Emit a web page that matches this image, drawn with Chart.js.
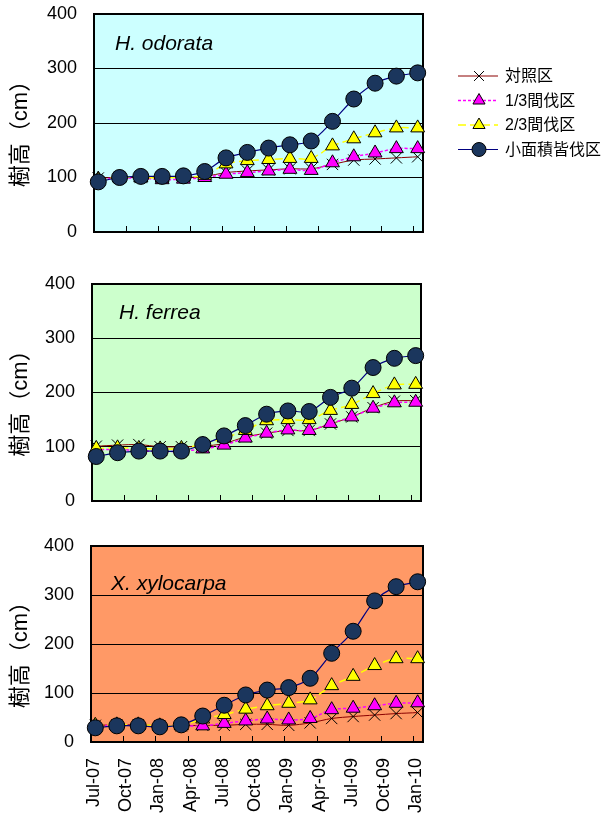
<!DOCTYPE html>
<html>
<head>
<meta charset="utf-8">
<script src="https://cdn.jsdelivr.net/npm/chart.js@4/dist/chart.umd.min.js"></script>
<style>
  body { margin: 0; background: #fff; width: 601px; height: 820px; position: relative; overflow: hidden; }
  .panel { position: absolute; left: 0; width: 601px; }
</style>
</head>
<body>
<div class="panel" style="top:0;height:250px"><canvas id="odorata"></canvas></div>
<div class="panel" style="top:266px;height:250px"><canvas id="ferrea"></canvas></div>
<div class="panel" style="top:530px;height:290px"><canvas id="xylocarpa"></canvas></div>
<script>
// axis labels
const xTickLabels = ['Jul-07', 'Oct-07', 'Jan-08', 'Apr-08', 'Jul-08', 'Oct-08', 'Jan-09', 'Apr-09', 'Jul-09', 'Oct-09', 'Jan-10'];
const xTickMonths = [0, 3, 6, 9, 12, 15, 18, 21, 24, 27, 30];   // months since Jul-07
const yTicks = [0, 100, 200, 300, 400];
const yTitle = '樹高（cm）';
const seriesNames = ['対照区', '1/3間伐区', '2/3間伐区', '小面積皆伐区'];

// survey dates, months since Jul-07 (mid-month, every 2 months)
const surveyMonths = [0.4, 2.4, 4.4, 6.4, 8.4, 10.4, 12.4, 14.4, 16.4, 18.4, 20.4, 22.4, 24.4, 26.4, 28.4, 30.4];

// H. odorata
const odorataControl = [99, 100, 100, 100, 100, 102, 109, 112, 114, 116, 116, 124, 132, 134, 136, 138];
const odorataThin13  = [97, 99, 99, 96, 97, 100, 106, 109, 112, 115, 113, 127, 138, 145, 153, 153];
const odorataThin23  = [96, 100, 100, 99, 101, 104, 125, 131, 133, 135, 135, 158, 171, 182, 191, 191];
const odorataClear   = [92, 100, 102, 102, 103, 111, 136, 146, 154, 160, 167, 203, 244, 273, 286, 292];

// H. ferrea
const ferreaControl = [101, 103, 104, 100, 100, 101, 106, 118, 125, 130, 130, 142, 155, 172, 184, 185];
const ferreaThin13  = [95, 95, 93, 91, 92, 96, 103, 116, 125, 131, 130, 143, 155, 171, 181, 182];
const ferreaThin23  = [97, 98, 97, 96, 97, 105, 116, 130, 148, 150, 150, 167, 178, 198, 214, 215];
const ferreaClear   = [82, 89, 92, 92, 92, 104, 120, 139, 160, 166, 165, 191, 208, 246, 263, 268];

// X. xylocarpa
const xylocarpaControl = [34, 35, 35, 33, 33, 34, 34, 36, 36, 34, 39, 48, 52, 55, 58, 60];
const xylocarpaThin13  = [33, 34, 34, 32, 33, 33, 38, 43, 47, 45, 48, 66, 69, 74, 79, 80];
const xylocarpaThin23  = [34, 35, 35, 33, 34, 47, 56, 67, 74, 79, 86, 115, 134, 156, 170, 170];
const xylocarpaClear   = [29, 33, 33, 31, 35, 53, 75, 96, 106, 111, 130, 181, 226, 288, 317, 327];

const latin = '"Liberation Sans", Arial, "Noto Sans CJK JP", sans-serif';
Chart.defaults.font.family = latin;
Chart.defaults.color = '#000';

const seriesStyles = [
  { borderColor: '#8b0000', borderWidth: 1, pointStyle: 'crossRot', pointRadius: 8,
    pointBackgroundColor: '#000', pointBorderColor: '#000', pointBorderWidth: 1, order: 3 },
  { borderColor: '#ff00ff', borderWidth: 1.5, borderDash: [3, 2], pointStyle: 'triangle', pointRadius: 8,
    pointBackgroundColor: '#ff00ff', pointBorderColor: '#000', pointBorderWidth: 1, order: 2 },
  { borderColor: '#ffff00', borderWidth: 1.5, borderDash: [8, 4], pointStyle: 'triangle', pointRadius: 8,
    pointBackgroundColor: '#ffff00', pointBorderColor: '#000', pointBorderWidth: 1, order: 1 },
  { borderColor: '#000080', borderWidth: 1.2, pointStyle: 'circle', pointRadius: 8,
    pointBackgroundColor: '#1b365d', pointBorderColor: '#000', pointBorderWidth: 1, order: 0 }
];

function makeDatasets(series) {
  return series.map((vals, i) => Object.assign({
    label: seriesNames[i],
    data: vals.map((v, k) => ({ x: surveyMonths[k], y: v })),
    fill: false,
    tension: 0.3,
    clip: false
  }, seriesStyles[i]));
}

function marker(ctx, style, x, y, r) {
  ctx.beginPath();
  if (style === 'circle') {
    ctx.arc(x, y, r, 0, Math.PI * 2);
    ctx.fill(); ctx.stroke();
  } else if (style === 'triangle') {
    ctx.moveTo(x, y - r);
    ctx.lineTo(x + r * 0.866, y + r / 2);
    ctx.lineTo(x - r * 0.866, y + r / 2);
    ctx.closePath();
    ctx.fill(); ctx.stroke();
  } else {
    const d = r * 0.707;
    ctx.moveTo(x - d, y - d); ctx.lineTo(x + d, y + d);
    ctx.moveTo(x + d, y - d); ctx.lineTo(x - d, y + d);
    ctx.stroke();
  }
}

function drawLegend(ctx, datasets) {
  ctx.save();
  datasets.forEach((ds, i) => {
    const y = 76 + i * 24.5;
    ctx.strokeStyle = ds.borderColor;
    ctx.lineWidth = ds.borderWidth;
    ctx.setLineDash(ds.borderDash || []);
    ctx.beginPath(); ctx.moveTo(458, y); ctx.lineTo(498, y); ctx.stroke();
    ctx.setLineDash([]);
    ctx.fillStyle = ds.pointBackgroundColor;
    ctx.strokeStyle = ds.pointBorderColor;
    ctx.lineWidth = 1;
    marker(ctx, ds.pointStyle, 479, y, 7);
    ctx.fillStyle = '#000';
    ctx.font = '16px ' + latin;
    ctx.textBaseline = 'middle';
    ctx.fillText(ds.label, 505, y + 1);
  });
  ctx.restore();
}

const panelDecor = {
  id: 'panelDecor',
  beforeDraw(chart, args, opts) {
    const { ctx, chartArea: a } = chart;
    ctx.save();
    ctx.fillStyle = opts.bg;
    ctx.fillRect(a.left, a.top, a.right - a.left, a.bottom - a.top);
    ctx.restore();
  },
  beforeDatasetsDraw(chart, args, opts) {
    const { ctx, chartArea: a, scales: { x } } = chart;
    ctx.save();
    // tick marks point inward like the Excel original
    ctx.strokeStyle = '#000';
    ctx.lineWidth = 1;
    xTickMonths.forEach(m => {
      const px = Math.round(x.getPixelForValue(m)) + 0.5;
      ctx.beginPath(); ctx.moveTo(px, a.bottom); ctx.lineTo(px, a.bottom - 6); ctx.stroke();
    });
    ctx.lineWidth = 2;
    ctx.strokeRect(a.left, a.top, a.right - a.left, a.bottom - a.top);
    ctx.fillStyle = '#000';
    ctx.font = 'italic 21px ' + latin;
    ctx.textBaseline = 'alphabetic';
    ctx.fillText(opts.species, a.left + opts.dx, a.top + opts.dy);
    ctx.restore();
  },
  afterDraw(chart, args, opts) {
    if (opts.legend) drawLegend(chart.ctx, chart.data.datasets);
  }
};

function panelConfig(p) {
  return {
    type: 'line',
    data: { datasets: makeDatasets(p.series) },
    options: {
      responsive: true,
      maintainAspectRatio: false,
      animation: false,
      events: [],
      layout: { padding: p.padding },
      plugins: {
        legend: { display: false },
        tooltip: { enabled: false },
        panelDecor: { bg: p.bg, species: p.species, dx: p.dx, dy: p.dy, legend: p.legend }
      },
      scales: {
        x: {
          type: 'linear', min: 0, max: 30.9,
          grid: { display: false, drawTicks: false },
          border: { display: false },
          afterBuildTicks: s => { s.ticks = xTickMonths.map(v => ({ value: v })); },
          afterFit: s => { s.height = p.xHeight; },
          ticks: {
            display: p.showX, autoSkip: false, minRotation: 90, maxRotation: 90,
            padding: 16, labelOffset: 3, color: '#000', font: { size: 18 },
            callback: (v, i) => xTickLabels[i]
          }
        },
        y: {
          min: 0, max: 400,
          afterBuildTicks: s => { s.ticks = yTicks.map(v => ({ value: v })); },
          afterFit: s => { s.width = p.left; },
          // invisible tick marks keep the labels clear of the frame
          grid: { color: '#000', lineWidth: 1, drawTicks: true, tickLength: 15, tickColor: 'rgba(0,0,0,0)' },
          border: { display: false },
          ticks: { padding: 2, color: '#000', font: { size: 18 } },
          title: {
            display: true, text: yTitle + '\u3000', color: '#000',
            font: { size: 22, family: '"Liberation Sans", "Noto Sans CJK JP", sans-serif' },
            padding: { top: 8, bottom: 0 }
          }
        }
      }
    },
    plugins: [panelDecor]
  };
}

new Chart(document.getElementById('odorata'), panelConfig({
  series: [odorataControl, odorataThin13, odorataThin23, odorataClear],
  species: 'H. odorata', bg: '#ccffff', dx: 21, dy: 36, legend: true,
  left: 94, xHeight: 0, showX: false,
  padding: { top: 14, bottom: 18, left: 0, right: 178 }
}));

new Chart(document.getElementById('ferrea'), panelConfig({
  series: [ferreaControl, ferreaThin13, ferreaThin23, ferreaClear],
  species: 'H. ferrea', bg: '#ccffcc', dx: 27, dy: 35, legend: false,
  left: 92, xHeight: 0, showX: false,
  padding: { top: 18, bottom: 15, left: 0, right: 180 }
}));

new Chart(document.getElementById('xylocarpa'), panelConfig({
  series: [xylocarpaControl, xylocarpaThin13, xylocarpaThin23, xylocarpaClear],
  species: 'X. xylocarpa', bg: '#ff9966', dx: 20, dy: 44, legend: false,
  left: 91, xHeight: 78, showX: true,
  padding: { top: 16, bottom: 0, left: 0, right: 178 }
}));
</script>
</body>
</html>
